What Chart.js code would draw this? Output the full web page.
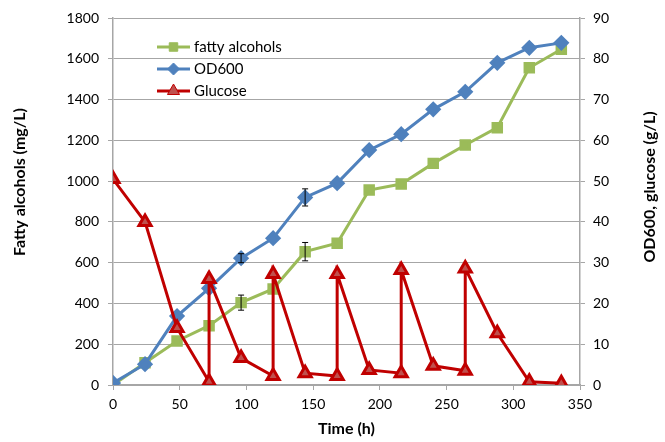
<!DOCTYPE html>
<html>
<head>
<meta charset="utf-8">
<script src="https://cdn.jsdelivr.net/npm/chart.js@4"></script>
<style>
  html, body { margin: 0; padding: 0; background: #fff; }
  #wrap { width: 665px; height: 442px; }
</style>
</head>
<body>
<div id="wrap"><canvas id="chart"></canvas></div>
<script>
// sampling times (h)
var times = [0, 24, 48, 72, 96, 120, 144, 168, 192, 216, 240, 264, 288, 312, 336];
// fatty alcohols, mg/L (left axis)
var fattyValues = [0, 109, 216, 291, 404, 471, 654, 695, 956, 986, 1087, 1177, 1262, 1556, 1647];
var fattyErrors = [0, 0, 0, 0, 37, 0, 45, 0, 0, 0, 0, 0, 0, 0, 0];
// OD600 (right axis)
var odValues = [0.5, 5.1, 16.9, 23.7, 31.1, 36, 46, 49.5, 57.6, 61.5, 67.6, 71.9, 79.0, 82.7, 83.9];
var odErrors = [0, 0, 0, 0, 1.1, 0, 2.1, 0, 0, 0, 0, 0, 0, 0, 0];
// glucose g/L (right axis), feeding causes the repeated times
var glucoseTimes = [0, 24, 48, 72, 72, 96, 120, 120, 144, 168, 168, 192, 216, 216, 240, 264, 264, 288, 312, 336];
var glucoseValues = [50.5, 40, 14, 0.8, 26, 6.6, 2.2, 27.2, 2.9, 2.2, 27.2, 3.7, 2.9, 28.2, 4.7, 3.5, 28.6, 12.7, 0.8, 0.4];

var xTicks = [0, 50, 100, 150, 200, 250, 300, 350];
var leftTitle = 'Fatty alcohols (mg/L)';
var rightTitle = 'OD600, glucose (g/L)';

function toPoints(xs, ys) {
    var out = [];
    for (var i = 0; i < xs.length; i++) out.push({x: xs[i], y: ys[i]});
    return out;
}

var gridColor = '#a6a6a6';
var fontFamily = 'Lato, "Open Sans", sans-serif';

// error bars, drawn from the scales
var errorBars = {
    id: 'errorBars',
    afterDatasetsDraw: function(chart) {
        var ctx = chart.ctx;
        chart.data.datasets.forEach(function(ds) {
            if (!ds.errors) return;
            var xs = chart.scales.x, ys = chart.scales[ds.yAxisID];
            ctx.save();
            ctx.strokeStyle = '#000';
            ctx.lineWidth = 1;
            ds.data.forEach(function(p, j) {
                var e = ds.errors[j];
                if (!e) return;
                var px = xs.getPixelForValue(p.x);
                var top = ys.getPixelForValue(p.y + e);
                var bot = ys.getPixelForValue(p.y - e);
                ctx.beginPath();
                ctx.moveTo(px, top); ctx.lineTo(px, bot);
                ctx.moveTo(px - 3, top); ctx.lineTo(px + 3, top);
                ctx.moveTo(px - 3, bot); ctx.lineTo(px + 3, bot);
                ctx.stroke();
            });
            ctx.restore();
        });
    }
};

// legend inside the plot, top left, plus both vertical axis titles reading upward
var innerLegend = {
    id: 'innerLegend',
    afterDraw: function(chart) {
        var ctx = chart.ctx;
        var x0 = 157, x1 = 190, tx = 194, y = 47, step = 22;
        chart.data.datasets.forEach(function(ds, i) {
            var yy = y + i * step;
            ctx.save();
            ctx.strokeStyle = ds.borderColor;
            ctx.lineWidth = 3;
            ctx.beginPath();
            ctx.moveTo(x0, yy); ctx.lineTo(x1, yy);
            ctx.stroke();
            ctx.fillStyle = ds.pointBackgroundColor;
            ctx.strokeStyle = ds.pointBorderColor;
            ctx.lineWidth = 1;
            Chart.helpers.drawPoint(ctx, {
                pointStyle: ds.pointStyle,
                radius: ds.pointRadius,
                borderWidth: 1
            }, (x0 + x1) / 2, yy);
            ctx.fillStyle = '#000';
            ctx.font = '15px ' + fontFamily;
            ctx.textBaseline = 'middle';
            ctx.fillText(ds.label, tx, yy);
            ctx.restore();
        });

        ctx.save();
        ctx.fillStyle = '#000';
        ctx.font = 'bold 16px ' + fontFamily;
        ctx.textAlign = 'center';
        ctx.textBaseline = 'middle';
        ctx.translate(20, 182);
        ctx.rotate(-Math.PI / 2);
        ctx.fillText(leftTitle, 0, 0);
        ctx.restore();

        ctx.save();
        ctx.fillStyle = '#000';
        ctx.font = 'bold 16px ' + fontFamily;
        ctx.textAlign = 'center';
        ctx.textBaseline = 'middle';
        ctx.translate(650, 187);
        ctx.rotate(-Math.PI / 2);
        ctx.fillText(rightTitle, 0, 0);
        ctx.restore();
    }
};

new Chart(document.getElementById('chart'), {
    type: 'line',
    data: {
        datasets: [
            {
                label: 'fatty alcohols',
                data: toPoints(times, fattyValues),
                errors: fattyErrors,
                yAxisID: 'y',
                borderColor: '#9bbb59',
                borderWidth: 3,
                pointStyle: 'rect',
                pointRadius: 6,
                pointBackgroundColor: '#9bbb59',
                pointBorderColor: '#9bbb59',
                order: 3
            },
            {
                label: 'OD600',
                data: toPoints(times, odValues),
                errors: odErrors,
                yAxisID: 'y2',
                borderColor: '#4f81bd',
                borderWidth: 3,
                pointStyle: 'rectRot',
                pointRadius: 6,
                pointBackgroundColor: '#4f81bd',
                pointBorderColor: '#4f81bd',
                order: 2
            },
            {
                label: 'Glucose',
                data: toPoints(glucoseTimes, glucoseValues),
                yAxisID: 'y2',
                borderColor: '#c00000',
                borderWidth: 3,
                pointStyle: 'triangle',
                pointRadius: 7,
                pointBackgroundColor: '#c0504d',
                pointBorderColor: '#c00000',
                order: 1
            }
        ]
    },
    options: {
        responsive: true,
        maintainAspectRatio: false,
        animation: false,
        layout: { padding: { top: 18, right: 0, left: 0, bottom: 0 } },
        plugins: {
            legend: { display: false },
            tooltip: { enabled: false }
        },
        scales: {
            x: {
                type: 'linear',
                min: 0, max: 350,
                afterBuildTicks: function(s) { s.ticks = xTicks.map(function(v) { return {value: v}; }); },
                grid: { drawOnChartArea: false, color: gridColor, tickLength: 5 },
                border: { color: gridColor, width: 1.5 },
                ticks: { color: '#000', font: { size: 14, family: fontFamily }, padding: 6 },
                title: { display: true, text: 'Time (h)', color: '#000', font: { size: 16, weight: 'bold', family: fontFamily }, padding: { top: 2 } },
                afterFit: function(s) { s.height = 57; }
            },
            y: {
                position: 'left',
                min: 0, max: 1800,
                ticks: { stepSize: 200, color: '#000', font: { size: 14, family: fontFamily }, padding: 9,
                         callback: function(v) { return String(v); } },
                grid: { color: gridColor, tickLength: 5 },
                border: { color: gridColor, width: 1.5 },
                afterFit: function(s) { s.width = 113; }
            },
            y2: {
                position: 'right',
                min: 0, max: 90,
                ticks: { stepSize: 10, color: '#000', font: { size: 14, family: fontFamily }, padding: 8,
                         callback: function(v) { return String(v); } },
                grid: { drawOnChartArea: false, color: gridColor, tickLength: 5 },
                border: { color: gridColor, width: 1.5 },
                afterFit: function(s) { s.width = 85; }
            }
        }
    },
    plugins: [errorBars, innerLegend]
});
</script>
</body>
</html>
